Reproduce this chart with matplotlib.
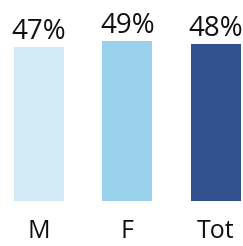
import matplotlib
matplotlib.use("Agg")
import matplotlib.pyplot as plt

categories = ["M", "F", "Tot"]
values = [47, 49, 48]
labels = ["47%", "49%", "48%"]
colors = ["#D2E9F6", "#9AD1EB", "#30508E"]

plt.rcParams['font.family'] = ['Open Sans', 'DejaVu Sans']

fig = plt.figure(figsize=(2.43, 2.46), dpi=100)
ax = fig.add_axes([0, 1 - 201/246, 1, 196/246])
x = list(range(len(categories)))
bars = ax.bar(x, values, width=0.565, color=colors)
for xi, v, lab in zip(x, values, labels):
    ax.annotate(lab, (xi, v), xytext=(0, 1), textcoords="offset points",
                ha="center", va="bottom", fontsize=20, color="#111111")
ax.set_xlim(-0.44, 2.305)
ax.set_ylim(0, 60)
ax.set_xticks(x)
ax.set_xticklabels(categories, fontsize=18, color="#111111")
ax.tick_params(axis="x", length=0, pad=13)
ax.set_yticks([])
for s in ax.spines.values():
    s.set_visible(False)
fig.savefig("out.png", dpi=100)
